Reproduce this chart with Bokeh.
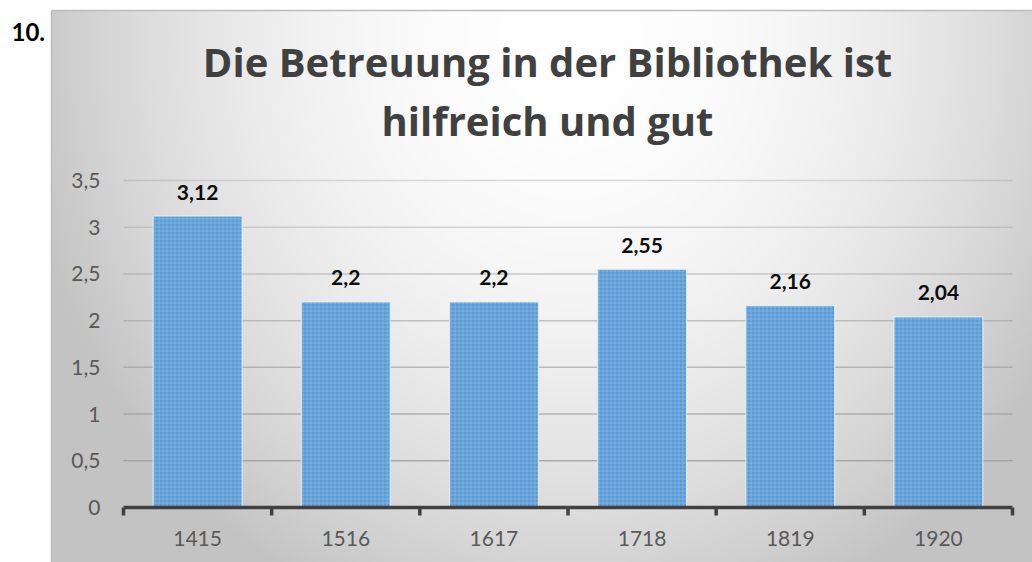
import numpy as np
from bokeh.plotting import figure
from bokeh.models import Range1d, ColumnDataSource
from bokeh.core.properties import value
from bokeh.embed import file_html
from bokeh.resources import INLINE

# ---------------- data ----------------
categories = ["1415", "1516", "1617", "1718", "1819", "1920"]
scores = [3.12, 2.2, 2.2, 2.55, 2.16, 2.04]
y_ticks = [0, 0.5, 1, 1.5, 2, 2.5, 3, 3.5]
y_tick_labels = ["0", "0,5", "1", "1,5", "2", "2,5", "3", "3,5"]
title_lines = ["Die Betreuung in der Bibliothek ist", "hilfreich und gut"]
number_label = "10."

# ---------------- layout (page pixels) ----------------
W, H = 1032, 562
PAGE = 0
AX_L, AX_R = 123, 1012      # x-axis extent
BASE, TOP = 507, 180        # pixel of y=0 and y=YMAX
YMAX = 3.5
FRAME_L, FRAME_T = 51, 10   # chart box corner

cw = (AX_R - AX_L) / len(categories)
c0 = AX_L + cw / 2
ky = (BASE - TOP) / YMAX


def dx(px):
    return (px - c0) / cw


def dy(py):
    return (BASE - py) / ky


LATO = value("Lato")
OPEN = value("Open Sans")

p = figure(width=W, height=H,
           x_range=Range1d(dx(PAGE), dx(PAGE + W)),
           y_range=Range1d(dy(PAGE + H), dy(PAGE)),
           output_backend="svg", toolbar_location=None,
           x_axis_location=None, y_axis_location=None,
           min_border=0)
p.grid.visible = False
p.outline_line_color = None
p.background_fill_color = "white"
p.border_fill_color = "white"

# ---------------- gradient chart background ----------------
gw_px = PAGE + W - FRAME_L
gh_px = PAGE + H - FRAME_T
nx, ny = gw_px // 2, gh_px // 2
xs = FRAME_L + (np.arange(nx) + 0.5) * gw_px / nx
ys = (PAGE + H) - (np.arange(ny) + 0.5) * gh_px / ny   # row 0 = bottom
X, Y = np.meshgrid(xs, ys)
d2 = ((X - 570) / 560) ** 2 + ((Y - 40) / 620) ** 2
g = np.clip(255 - 60 * d2, 195, 255).astype(np.uint8)
img = np.empty((ny, nx, 4), dtype=np.uint8)
img[..., 0] = g
img[..., 1] = g
img[..., 2] = g
img[..., 3] = 255
img32 = img.view(dtype=np.uint32).reshape((ny, nx))
p.image_rgba(image=[img32], x=dx(FRAME_L), y=dy(PAGE + H),
             dw=gw_px / cw, dh=gh_px / ky)

# chart box border (top and left)
p.segment(x0=[dx(FRAME_L), dx(FRAME_L)], y0=[dy(FRAME_T), dy(FRAME_T)],
          x1=[dx(PAGE + W), dx(FRAME_L)], y1=[dy(FRAME_T), dy(PAGE + H)],
          line_color="#bdbdbd", line_width=1.5)

idx = list(range(len(categories)))

# ---------------- gridlines ----------------
grid_vals = [t for t in y_ticks if t > 0]
grid_alpha = [0.85 - 0.15 * t for t in grid_vals]
p.segment(x0=[-0.5] * len(grid_vals), x1=[len(categories) - 0.5] * len(grid_vals),
          y0=grid_vals, y1=grid_vals, line_color="#9a9a9a",
          line_alpha=grid_alpha, line_width=1.5)

# ---------------- bars ----------------
src = ColumnDataSource(dict(x=idx, top=scores,
                            lab=[f"{v:g}".replace(".", ",") for v in scores]))
p.vbar(x="x", top="top", bottom=0, width=0.6, source=src,
       fill_color="#5b9bd5", line_color="#e3eef9", line_width=1,
       hatch_pattern="cross", hatch_color="#b6d3f0", hatch_alpha=0.35,
       hatch_scale=4, hatch_weight=1)

# value labels
p.text(x="x", y="top", text="lab", source=src, text_font=LATO,
       text_font_style="bold", text_font_size="21px", text_color="#0d0d0d",
       text_align="center", text_baseline="middle", y_offset=-24)

# ---------------- x axis ----------------
p.segment(x0=[-0.5], x1=[len(categories) - 0.5], y0=[0], y1=[0],
          line_color="#404040", line_width=3.5)
bounds = [i - 0.5 for i in range(len(categories) + 1)]
p.ray(x=bounds, y=[0] * len(bounds), length=8, length_units="screen",
      angle=-np.pi / 2, line_color="#404040", line_width=3.5)
p.text(x=idx, y=[0] * len(idx), text=categories, text_font=LATO,
       text_font_size="21px", text_color="#595959", text_align="center",
       text_baseline="middle", y_offset=31)

# ---------------- y tick labels ----------------
p.text(x=[-0.5] * len(y_ticks), y=y_ticks, text=y_tick_labels, text_font=LATO,
       text_font_size="21px", text_color="#595959", text_align="right",
       text_baseline="middle", x_offset=-23)

# ---------------- title ----------------
p.text(x=[dx(547)] * 2, y=[dy(61), dy(120)], text=title_lines, text_font=OPEN,
       text_font_style="bold", text_font_size="40px", text_color="#404040",
       text_align="center", text_baseline="middle")

# "10." label
p.text(x=[dx(11)], y=[dy(31)], text=[number_label], text_font=LATO,
       text_font_style="bold", text_font_size="24px", text_color="#000000",
       text_align="left", text_baseline="middle")

open("out.html", "w").write(file_html(p, INLINE))
